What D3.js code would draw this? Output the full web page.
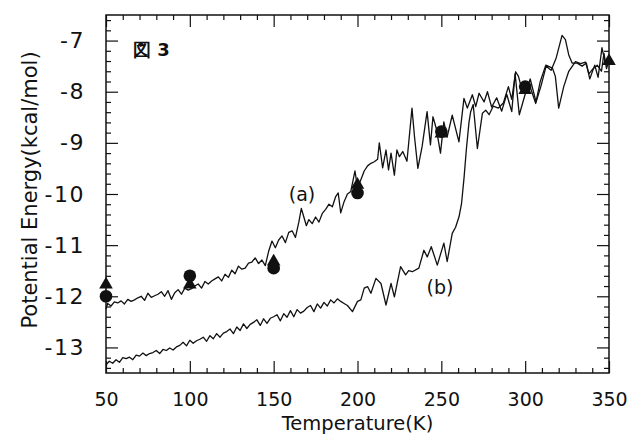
<!DOCTYPE html>
<html><head><meta charset="utf-8">
<script src="https://cdn.jsdelivr.net/npm/d3@7"></script>
<style>
html,body{margin:0;padding:0;background:#fff;}
svg{display:block;}
text{font-family:"DejaVu Sans",sans-serif;fill:#111;}
</style></head>
<body>
<script>
// ---- data ----
const tempA = [50,51,53,55,57,59,61,63,65,67,69,71,73,75,77,79,81,83,85,87,89,91,93,95,97,99,101,103,105,107,109,111,113,115,117,119,121,123,125,127,129,131,133,135,137,139,141,143,145,147,149,151,153,155,157,159,161,163,165,166.5,168,169.5,171,173,175,177,179,181,183,185,187,188.5,190,192,194,196,198.5,200,202,204,206,208,210,212,213,215,217,218.5,220,222,223.5,225,227,229.5,232.5,234,236,238.5,241.5,243.5,245,247,249.5,251.5,253.5,256.5,260.5,263.5,265.5,268.5,270.5,272.5,275.5,277.5,280,283,286,289,292,294,296.5,300,303,306.5,309.5,312.5,315.5,318.5,322,324,326,328,331,334,336.5,338.5,341.5,343.5,345.8,347.8,350];
const energyA = [-12.25,-12.14,-12.19,-12.11,-12.13,-12.09,-12.15,-12.06,-12.10,-12.07,-12.03,-12.00,-12.08,-11.94,-12.02,-11.99,-11.96,-11.91,-12.00,-11.89,-12.06,-11.93,-11.87,-11.96,-11.84,-11.88,-11.85,-11.80,-11.76,-11.84,-11.71,-11.76,-11.70,-11.66,-11.62,-11.70,-11.57,-11.63,-11.49,-11.56,-11.41,-11.47,-11.45,-11.35,-11.33,-11.25,-11.36,-11.29,-11.40,-11.12,-10.92,-11.05,-10.90,-10.82,-10.95,-10.75,-10.72,-10.85,-10.55,-10.28,-10.45,-10.62,-10.50,-10.58,-10.45,-10.55,-10.38,-10.30,-10.20,-10.25,-10.05,-9.98,-10.37,-10.15,-10.00,-9.95,-9.55,-9.88,-9.72,-9.55,-9.45,-9.40,-9.37,-9.32,-9.00,-9.49,-9.14,-9.53,-9.20,-9.63,-9.14,-9.27,-9.17,-9.36,-8.32,-8.88,-9.50,-9.08,-8.39,-9.04,-8.49,-8.72,-9.20,-8.59,-8.88,-8.46,-8.98,-8.13,-8.32,-8.06,-8.29,-8.03,-8.20,-8.00,-8.30,-8.12,-8.38,-8.05,-8.39,-7.65,-8.45,-8.05,-7.75,-8.20,-7.88,-7.50,-7.58,-7.34,-6.90,-6.98,-7.28,-7.44,-7.44,-7.50,-7.44,-7.75,-7.48,-7.72,-7.14,-7.44,-7.34];

const tempB = [50,52,54,56,58,60,62,64,66,68,70,72,74,76,78,80,82,84,86,88,90,92,94,96,98,100,102,104,106,108,110,112,114,116,118,120,122,124,126,128,130,132,134,136,138,140,142,144,146,148,150,152,154,156,158,160,162,164,166,168,170,172,174,176,178,180,182,184,186,188,190,192,194,197,200,202,204,206,208,211,214,217,220,222,225.7,228.7,230.5,232.7,236.6,239.6,241.6,244,247.6,251.5,253.5,256.5,258.5,260.5,262,263.5,265,266.5,267.5,269,271.5,274.5,276.5,278.5,281,284,287,290,292,294.3,296,298,302.3,306.3,309,312.3,316.3,318,320,323,326,330,333,336,338,340.5,343,345.5,347,348.5,350];
const energyB = [-13.34,-13.27,-13.31,-13.24,-13.29,-13.20,-13.22,-13.19,-13.24,-13.15,-13.17,-13.11,-13.16,-13.12,-13.10,-13.06,-13.12,-13.04,-13.06,-13.01,-13.05,-12.99,-12.96,-12.90,-12.97,-12.86,-12.92,-12.87,-12.84,-12.80,-12.88,-12.77,-12.83,-12.73,-12.80,-12.72,-12.69,-12.64,-12.73,-12.60,-12.67,-12.54,-12.63,-12.55,-12.51,-12.46,-12.57,-12.44,-12.53,-12.43,-12.40,-12.36,-12.48,-12.34,-12.41,-12.28,-12.40,-12.26,-12.33,-12.29,-12.22,-12.18,-12.30,-12.15,-12.23,-12.12,-12.19,-12.07,-12.13,-12.05,-12.10,-12.14,-12.18,-12.30,-12.10,-12.07,-11.84,-11.81,-11.94,-11.65,-11.75,-12.17,-11.75,-12.01,-11.42,-11.58,-11.50,-11.52,-11.45,-11.10,-11.23,-11.03,-11.39,-10.96,-11.32,-10.77,-10.65,-10.45,-10.20,-9.70,-9.10,-8.60,-8.39,-8.25,-9.11,-8.42,-8.36,-8.45,-8.28,-8.32,-8.22,-7.90,-8.15,-7.61,-7.70,-7.95,-7.84,-8.23,-7.80,-7.48,-7.54,-7.70,-8.32,-7.90,-7.60,-7.41,-7.45,-7.42,-7.65,-7.55,-7.48,-7.60,-7.25,-7.55,-7.38];

const circleT = [50,100,150,200,250,300];
const circleE = [-12.0,-11.6,-11.45,-9.98,-8.78,-7.9];
const triT = [50,100,150,200,250,300,350];
const triE = [-11.77,-11.77,-11.32,-9.82,-8.82,-7.97,-7.4];

const xTicks = [50,100,150,200,250,300,350];
const yTicks = [-13,-12,-11,-10,-9,-8,-7];

// ---- layout ----
const W = 629, H = 436;
const L = 106, R = 609, T = 15, B = 373;

const svg = d3.select("body").append("svg").attr("width", W).attr("height", H);
const x = d3.scaleLinear().domain([50,350]).range([L,R]);
const y = d3.scaleLinear().domain([-13.5,-6.5]).range([B,T]);

const xMinor = d3.range(50, 351, 10).filter(v => v % 50 !== 0);
const yMinor = d3.range(-13.4, -6.5, 0.2).map(v => +v.toFixed(1)).filter(v => Math.abs(v - Math.round(v)) > 1e-6);

function styleAxis(g){
  g.select(".domain").remove();
  g.selectAll("line").attr("stroke","#111").attr("stroke-width",1.2);
}

// bottom
svg.append("g").attr("transform",`translate(0,${B})`)
  .call(d3.axisBottom(x).tickValues(xTicks).tickSize(-12).tickPadding(20).tickFormat(d=>String(d)))
  .call(styleAxis)
  .call(g=>g.selectAll("text").attr("font-size",19).attr("font-family","DejaVu Sans").attr("fill","#111"));
svg.append("g").attr("transform",`translate(0,${B})`)
  .call(d3.axisBottom(x).tickValues(xMinor).tickSize(-5).tickFormat("")).call(styleAxis);
// top
svg.append("g").attr("transform",`translate(0,${T})`)
  .call(d3.axisTop(x).tickValues(xTicks).tickSize(-12).tickFormat("")).call(styleAxis);
svg.append("g").attr("transform",`translate(0,${T})`)
  .call(d3.axisTop(x).tickValues(xMinor).tickSize(-5).tickFormat("")).call(styleAxis);
// left
svg.append("g").attr("transform",`translate(${L},0)`)
  .call(d3.axisLeft(y).tickValues(yTicks).tickSize(-12).tickPadding(21).tickFormat(d=>String(d)))
  .call(styleAxis)
  .call(g=>g.selectAll("text").attr("font-size",22).attr("letter-spacing",1.5).attr("font-family","DejaVu Sans").attr("fill","#111"));
svg.append("g").attr("transform",`translate(${L},0)`)
  .call(d3.axisLeft(y).tickValues(yMinor).tickSize(-5).tickFormat("")).call(styleAxis);
// right
svg.append("g").attr("transform",`translate(${R},0)`)
  .call(d3.axisRight(y).tickValues(yTicks).tickSize(-12).tickFormat("")).call(styleAxis);
svg.append("g").attr("transform",`translate(${R},0)`)
  .call(d3.axisRight(y).tickValues(yMinor).tickSize(-5).tickFormat("")).call(styleAxis);

// frame
svg.append("rect").attr("x",L).attr("y",T).attr("width",R-L).attr("height",B-T)
  .attr("fill","none").attr("stroke","#111").attr("stroke-width",1.5);

// lines
const line = d3.line().x(d=>x(d[0])).y(d=>y(d[1]));
const dataA = tempA.map((t,i)=>[t,energyA[i]]);
const dataB = tempB.map((t,i)=>[t,energyB[i]]);
[dataA, dataB].forEach(d=>{
  svg.append("path").datum(d).attr("d",line).attr("fill","none")
    .attr("stroke","#111").attr("stroke-width",1.3).attr("stroke-linejoin","round");
});

// markers
svg.append("g").selectAll("path").data(triT.map((t,i)=>[t,triE[i]])).join("path")
  .attr("d", d3.symbol().type(d3.symbolTriangle).size(80))
  .attr("transform", d=>`translate(${x(d[0])},${y(d[1])})`).attr("fill","#111");
svg.append("g").selectAll("circle").data(circleT.map((t,i)=>[t,circleE[i]])).join("circle")
  .attr("cx", d=>x(d[0])).attr("cy", d=>y(d[1])).attr("r",6.3).attr("fill","#111");

// annotations
svg.append("text").attr("x",302).attr("y",201).attr("text-anchor","middle").attr("font-size",19).text("(a)");
svg.append("text").attr("x",440).attr("y",294).attr("text-anchor","middle").attr("font-size",19).text("(b)");
svg.append("text").attr("x",133).attr("y",56).attr("font-size",18).attr("font-weight","bold")
  .attr("font-family","Noto Sans CJK JP").text("図 3");

// axis titles
svg.append("text").attr("x",(L+R)/2).attr("y",430).attr("text-anchor","middle").attr("font-size",19.5).text("Temperature(K)");
svg.append("text").attr("transform","translate(37,190) rotate(-90)").attr("text-anchor","middle").attr("font-size",21).text("Potential Energy(kcal/mol)");
</script>
</body></html>
